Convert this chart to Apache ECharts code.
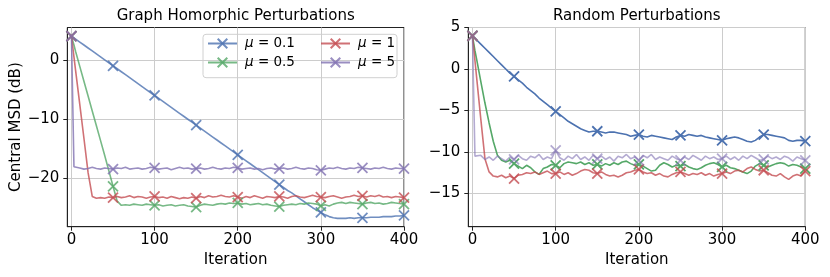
<!DOCTYPE html>
<html><head><meta charset="utf-8">
<script src="https://cdn.jsdelivr.net/npm/echarts@6/dist/echarts.min.js"></script>
<style>html,body{margin:0;padding:0;background:#fff}#c{width:830px;height:277px}</style>
</head><body><div id="c"></div>
<script>
// Iterations (x values)
const iters = [0, 3,
  5, 10, 15, 20, 25, 30, 35, 40, 45, 50,
  55, 60, 65, 70, 75, 80, 85, 90, 95, 100,
  105, 110, 115, 120, 125, 130, 135, 140, 145, 150,
  155, 160, 165, 170, 175, 180, 185, 190, 195, 200,
  205, 210, 215, 220, 225, 230, 235, 240, 245, 250,
  255, 260, 265, 270, 275, 280, 285, 290, 295, 300,
  305, 310, 315, 320, 325, 330, 335, 340, 345, 350,
  355, 360, 365, 370, 375, 380, 385, 390, 395, 400];

const seriesNames = ['μ = 0.1', 'μ = 0.5', 'μ = 1', 'μ = 5'];
const panelTitles = ['Graph Homorphic Perturbations', 'Random Perturbations'];
const xTicks = [0, 100, 200, 300, 400];
const yTicksLeft = [-20, -10, 0];
const yTicksRight = [-15, -10, -5, 0, 5];

// Left panel: Graph Homorphic Perturbations
const leftMu01 = [4, 3.7,
  3.5, 3.0, 2.5, 2.0, 1.5, 1.0, 0.5, 0.0, -0.5, -1.0,
  -1.5, -2.0, -2.5, -3.0, -3.5, -4.0, -4.5, -5.0, -5.5, -6.0,
  -6.5, -7.0, -7.5, -8.0, -8.5, -9.0, -9.5, -10.0, -10.5, -11.0,
  -11.5, -12.0, -12.5, -13.0, -13.5, -14.0, -14.5, -15.0, -15.5, -16.0,
  -16.5, -17.0, -17.5, -18.0, -18.5, -19.0, -19.5, -20.0, -20.5, -21.0,
  -21.5, -22.0, -22.4, -22.9, -23.4, -23.9, -24.4, -24.9, -25.3, -25.7,
  -26.1, -26.4, -26.6, -26.7, -26.7, -26.7, -26.6, -26.7, -26.6, -26.6,
  -26.6, -26.5, -26.5, -26.5, -26.4, -26.4, -26.4, -26.3, -26.3, -26.2];
const leftMu05 = [4, 2.5,
  1.4, -1.1, -3.6, -6.1, -8.6, -11.1, -13.6, -16.1, -18.7, -21.3,
  -23.8, -24.5, -24.4, -24.5, -24.3, -24.4, -24.5, -24.3, -24.4, -24.5,
  -24.4, -24.6, -24.5, -24.4, -24.6, -24.5, -24.4, -24.6, -24.7, -24.8,
  -24.5, -24.3, -24.4, -24.5, -24.3, -24.2, -24.3, -24.1, -24.2, -24.1,
  -24.3, -24.2, -24.4, -24.3, -24.2, -24.4, -24.3, -24.5, -24.6, -24.7,
  -24.5, -24.4, -24.3, -24.4, -24.2, -24.3, -24.1, -24.2, -24.3, -24.6,
  -24.4, -24.6, -24.3, -24.1, -24.0, -24.2, -24.0, -24.1, -24.2, -24.3,
  -24.1, -24.0, -24.2, -24.1, -24.3, -24.2, -24.0, -24.1, -24.2, -24.3];
const leftMu1 = [4, 0.5,
  -1.8, -7.5, -13.2, -19.0, -23.0, -23.3, -23.2, -23.3, -23.1, -23.2,
  -23.0, -23.2, -23.1, -22.9, -23.2, -23.0, -23.1, -23.3, -23.1, -23.0,
  -23.2, -23.1, -23.3, -23.0, -23.2, -23.4, -23.2, -23.3, -23.1, -23.3,
  -23.0, -23.2, -22.9, -23.1, -23.0, -22.8, -23.0, -23.1, -22.9, -23.1,
  -23.3, -23.0, -23.2, -22.9, -23.1, -23.3, -23.0, -23.1, -23.2, -23.0,
  -23.1, -23.3, -23.0, -22.9, -23.1, -23.2, -23.0, -22.8, -23.0, -23.1,
  -23.2, -23.0, -22.9, -23.1, -23.3, -23.1, -23.0, -22.8, -23.0, -22.9,
  -23.1, -22.9, -23.0, -22.8, -23.1, -23.0, -23.2, -23.0, -23.1, -23.2];
const leftMu5 = [4, -18.0,
  -18.3, -18.2, -18.4, -18.3, -18.1, -18.3, -18.4, -18.2, -18.3, -18.4,
  -18.2, -18.3, -18.1, -18.4, -18.3, -18.2, -18.4, -18.3, -18.1, -18.2,
  -18.4, -18.3, -18.2, -18.5, -18.3, -18.1, -18.3, -18.2, -18.4, -18.3,
  -18.2, -18.4, -18.3, -18.1, -18.3, -18.4, -18.2, -18.3, -18.1, -18.2,
  -18.4, -18.3, -18.2, -18.4, -18.3, -18.5, -18.3, -18.2, -18.4, -18.3,
  -18.2, -18.4, -18.3, -18.1, -18.3, -18.4, -18.2, -18.3, -18.5, -18.6,
  -18.4, -18.2, -18.3, -18.1, -18.3, -18.4, -18.2, -18.3, -18.1, -18.2,
  -18.3, -18.4, -18.2, -18.3, -18.1, -18.3, -18.4, -18.2, -18.3, -18.3];

// Right panel: Random Perturbations
const rightMu01 = [4, 3.7,
  3.5, 3.0, 2.5, 2.0, 1.5, 1.0, 0.5, 0.0, -0.5, -0.9,
  -1.3, -1.7, -2.2, -2.6, -3.0, -3.5, -3.9, -4.3, -4.7, -5.1,
  -5.5, -5.9, -6.3, -6.6, -6.9, -7.2, -7.4, -7.6, -7.5, -7.5,
  -7.6, -7.7, -7.6, -7.6, -7.7, -7.8, -7.9, -8.1, -8.0, -7.9,
  -8.1, -8.2, -8.0, -8.1, -8.2, -8.3, -8.4, -8.5, -8.2, -8.0,
  -8.1, -7.9, -8.0, -8.1, -8.0, -8.2, -8.3, -8.4, -8.5, -8.6,
  -8.4, -8.3, -8.2, -8.3, -8.5, -8.7, -8.8, -8.6, -8.2, -7.9,
  -7.9, -8.0, -8.1, -8.2, -8.3, -8.6, -8.7, -8.6, -8.6, -8.7];
const rightMu05 = [4, 2.2,
  1.2, -1.5, -4.1, -6.5, -8.7, -10.4, -11.0, -11.2, -11.0, -11.4,
  -11.7, -12.0, -11.6, -11.9, -12.4, -12.7, -12.0, -11.8, -11.5, -11.6,
  -11.9, -11.4, -11.2, -11.3, -11.4, -11.2, -11.5, -11.3, -11.6, -11.5,
  -11.7, -11.4, -11.6, -11.3, -11.5, -11.2, -11.1, -11.4, -11.6, -11.5,
  -11.7, -12.0, -12.3, -12.2, -11.6, -11.3, -11.5, -11.8, -11.6, -11.7,
  -11.5, -11.8, -12.0, -12.1, -11.9, -11.6, -11.4, -11.3, -11.5, -11.8,
  -11.6, -11.9, -12.0, -12.2, -12.4, -12.6, -12.3, -11.7, -11.4, -11.6,
  -11.8, -11.6, -11.4, -11.3, -11.4, -11.7, -11.5, -11.6, -11.8, -12.0];
const rightMu1 = [4, 1.0,
  -1.0, -6.0, -10.8, -12.4, -12.9, -13.0, -12.8, -13.1, -12.9, -13.2,
  -12.8, -12.7, -12.5, -12.6, -12.4, -12.7, -12.5, -12.3, -12.6, -12.6,
  -12.4, -12.7, -12.5, -12.8, -12.6, -12.3, -12.1, -12.2, -12.5, -12.6,
  -12.4, -12.7, -12.9, -12.8, -13.0, -12.8, -12.5, -12.4, -12.2, -12.1,
  -12.4, -12.6, -12.5, -12.8, -12.6, -12.9, -13.0, -12.7, -12.5, -12.4,
  -12.6, -12.8, -12.6, -12.7, -12.5, -12.8, -12.6, -12.9, -12.7, -12.6,
  -12.4, -12.6, -12.3, -12.2, -12.4, -12.0, -11.8, -12.1, -12.3, -12.2,
  -12.5, -12.8, -12.9, -12.6, -13.0, -13.3, -12.9, -12.7, -12.9, -12.3];
const rightMu5 = [4, -10.5,
  -10.7, -10.4, -10.9, -10.6, -11.0, -10.5, -10.8, -11.1, -10.6, -10.9,
  -10.4, -10.8, -11.0, -10.5, -10.7, -10.3, -10.9, -10.6, -10.8, -9.8,
  -10.7, -11.0, -10.5, -10.8, -10.3, -10.9, -10.6, -11.0, -10.4, -10.8,
  -10.5, -10.9, -10.6, -11.1, -10.5, -10.7, -10.3, -10.8, -10.6, -11.0,
  -10.4, -10.7, -10.3, -10.9, -10.6, -10.8, -11.0, -10.5, -10.8, -11.0,
  -10.6, -10.9, -10.4, -10.7, -11.0, -10.5, -10.8, -10.6, -10.9, -10.8,
  -10.5, -10.9, -10.6, -11.0, -10.5, -10.8, -10.4, -10.7, -11.0, -10.9,
  -10.5, -10.8, -10.6, -10.9, -10.5, -10.7, -11.1, -10.6, -10.8, -11.0];

const colors = ['#4c72b0', '#55a868', '#c44e52', '#8172b2'];
const FONT = 'DejaVu Sans';
const XPATH = 'path://M0,0L10,10M10,0L0,10';

function buildData(vals) {
  return iters.map((x, i) => (x % 50 === 0) ? [x, vals[i]] : { value: [x, vals[i]], symbol: 'none' });
}
function mk(k, vals, panel, opacity) {
  const c = colors[k];
  return {
    type: 'line', name: seriesNames[k], xAxisIndex: panel, yAxisIndex: panel,
    data: buildData(vals), symbol: XPATH, symbolSize: 10, showAllSymbol: true,
    lineStyle: { color: c, width: 1.6, opacity: opacity },
    itemStyle: { color: c, borderColor: c, borderWidth: 1.8, opacity: opacity },
    emphasis: { disabled: true }, animation: false, clip: true
  };
}
const minus = v => String(v).replace('-', '\u2212');

function xAxis(grid) {
  return {
    type: 'value', gridIndex: grid, min: -5, max: 400,
    axisLine: { show: true, onZero: false, lineStyle: { color: '#222', width: 1 } },
    axisTick: { show: true, length: 4, lineStyle: { color: '#222' }, customValues: xTicks },
    axisLabel: { customValues: xTicks, fontSize: 15, color: '#000', fontFamily: FONT, margin: 6 },
    splitLine: { show: true, lineStyle: { color: '#cccccc', width: 1 } },
    name: 'Iteration', nameLocation: 'middle', nameGap: 22,
    nameTextStyle: { fontSize: 15, color: '#000', fontFamily: FONT }
  };
}
function yAxis(grid, min, max, ticks, name) {
  return {
    type: 'value', gridIndex: grid, min: min, max: max,
    axisLine: { show: true, onZero: false, lineStyle: { color: '#222', width: 1 } },
    axisTick: { show: true, length: 4, lineStyle: { color: '#222' }, customValues: ticks },
    axisLabel: { customValues: ticks, fontSize: 15, color: '#000', fontFamily: FONT, margin: 8, formatter: minus },
    splitLine: { show: true, lineStyle: { color: '#cccccc', width: 1 } },
    name: name, nameLocation: 'middle', nameGap: 40,
    nameTextStyle: { fontSize: 15, color: '#000', fontFamily: FONT }
  };
}

const chart = echarts.init(document.getElementById('c'), null, { renderer: 'canvas' });
const legendText = { fontSize: 13.5, color: '#000', fontFamily: FONT, padding: [0, 0, 0, 3],
  rich: { i: { fontStyle: 'italic', fontSize: 13.5, fontFamily: FONT, color: '#000' } } };
const legendFmt = n => '{i|μ}' + n.slice(1);
chart.setOption({
  animation: false,
  textStyle: { fontFamily: FONT },
  grid: [
    { left: 67.3, right: 426, top: 27.5, bottom: 50.3, show: true, borderColor: '#222', borderWidth: 1, backgroundColor: 'transparent' },
    { left: 468.3, right: 24.7, top: 27.5, bottom: 50.3, show: true, borderColor: '#222', borderWidth: 1, backgroundColor: 'transparent' }
  ],
  xAxis: [xAxis(0), xAxis(1)],
  yAxis: [yAxis(0, -28.1, 5.45, yTicksLeft, 'Central MSD (dB)'), yAxis(1, -19, 5, yTicksRight, '')],
  legend: [
    { data: [seriesNames[0], seriesNames[1]], orient: 'vertical', left: 207, top: 36.5, padding: 0,
      itemWidth: 29, itemHeight: 12, itemGap: 5, textStyle: legendText, formatter: legendFmt, selectedMode: false },
    { data: [seriesNames[2], seriesNames[3]], orient: 'vertical', left: 320, top: 36.5, padding: 0,
      itemWidth: 29, itemHeight: 12, itemGap: 5, textStyle: legendText, formatter: legendFmt, selectedMode: false }
  ],
  graphic: [
    { type: 'rect', shape: { x: 203, y: 34.3, width: 194, height: 43.4, r: 3 }, z: 0,
      style: { fill: 'rgba(255,255,255,0.8)', stroke: '#d0d0d0', lineWidth: 1 } },
    { type: 'text', x: 235.7, y: 16, style: { text: panelTitles[0], fontSize: 15, fontFamily: FONT, fill: '#000', align: 'center', verticalAlign: 'middle' } },
    { type: 'text', x: 636.8, y: 16, style: { text: panelTitles[1], fontSize: 15, fontFamily: FONT, fill: '#000', align: 'center', verticalAlign: 'middle' } }
  ],
  series: [
    mk(0, leftMu01, 0, 0.8), mk(1, leftMu05, 0, 0.8), mk(2, leftMu1, 0, 0.8), mk(3, leftMu5, 0, 0.8),
    mk(0, rightMu01, 1, 1), mk(1, rightMu05, 1, 1), mk(2, rightMu1, 1, 0.8), mk(3, rightMu5, 1, 0.6)
  ]
});
</script>
</body></html>
